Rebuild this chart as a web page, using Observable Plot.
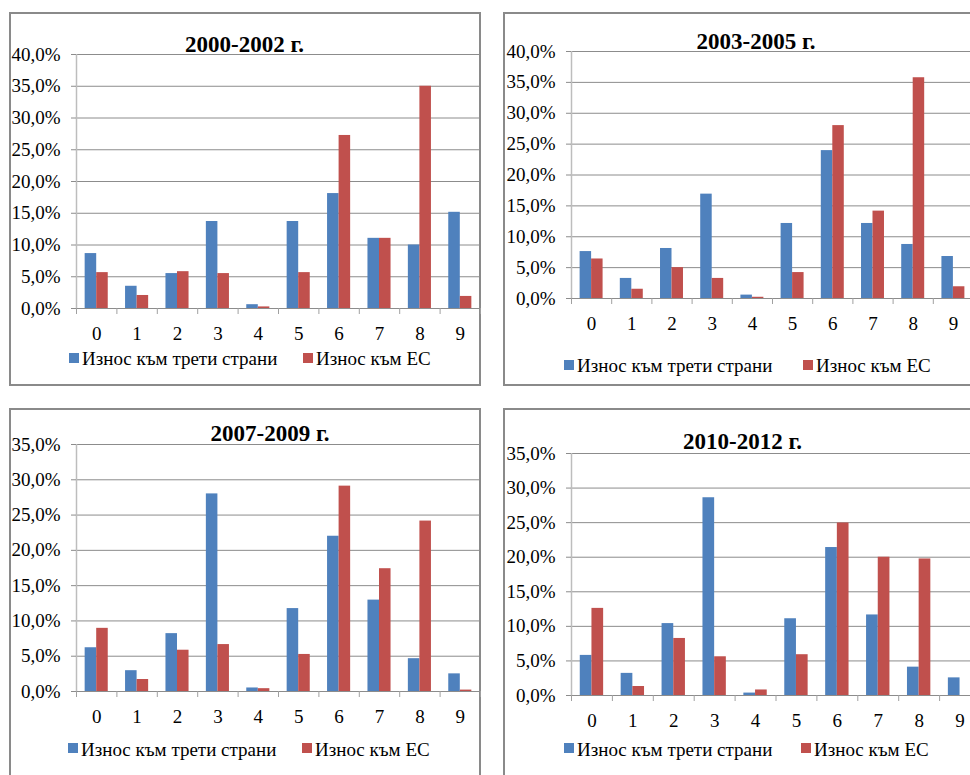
<!DOCTYPE html>
<html>
<head>
<meta charset="utf-8">
<script src="https://cdn.jsdelivr.net/npm/d3@7"></script>
<script src="https://cdn.jsdelivr.net/npm/@observablehq/plot@0.6"></script>
<style>
  body { margin: 0; background: #fff; }
  #page { position: relative; width: 970px; height: 775px; overflow: hidden; background: #fff; font-family: "Liberation Serif", "Times New Roman", serif; }
  .box { position: absolute; border: 2px solid #8a8a8a; box-sizing: border-box; }
  .plot { position: absolute; }
  .title { position: absolute; width: 300px; text-align: center; font-weight: bold; font-size: 23px; line-height: 23px; color: #000; white-space: nowrap; }
  .sw { position: absolute; width: 10px; height: 10px; }
  .lt { position: absolute; font-size: 19px; line-height: 19px; color: #000; white-space: nowrap; }
</style>
</head>
<body>
<div id="page"></div>
<script>
// ---- data ----
const categories = ["0", "1", "2", "3", "4", "5", "6", "7", "8", "9"];
const seriesNames = ["Износ към трети страни", "Износ към ЕС"];
const seriesColors = ["#4F81BD", "#C0504D"];
const panelTitles = ["2000-2002 г.", "2003-2005 г.", "2007-2009 г.", "2010-2012 г."];

const third2000 = [8.65, 3.5, 5.5, 13.7, 0.6, 13.7, 18.1, 11.05, 10.0, 15.15];
const eu2000    = [5.65, 2.05, 5.8, 5.5, 0.25, 5.65, 27.25, 11.05, 35.0, 1.9];
const third2003 = [7.6, 3.25, 8.1, 16.9, 0.55, 12.15, 23.95, 12.15, 8.75, 6.8];
const eu2003    = [6.4, 1.5, 5.0, 3.25, 0.2, 4.2, 28.0, 14.15, 35.75, 1.9];
const third2007 = [6.2, 2.95, 8.2, 28.0, 0.5, 11.75, 22.0, 12.95, 4.65, 2.5];
const eu2007    = [8.95, 1.7, 5.85, 6.65, 0.4, 5.25, 29.1, 17.4, 24.15, 0.2];
const third2010 = [5.8, 3.2, 10.4, 28.6, 0.35, 11.1, 21.4, 11.65, 4.1, 2.55];
const eu2010    = [12.6, 1.3, 8.25, 5.6, 0.8, 5.9, 24.95, 20.0, 19.75, 0.0];

const yMaxes = [40, 40, 35, 35];
const yTicks40 = [0, 5, 10, 15, 20, 25, 30, 35, 40];
const yTicks35 = [0, 5, 10, 15, 20, 25, 30, 35];

// ---- layout ----
const page = document.getElementById("page");
const fmt = d => d.toFixed(1).replace(".", ",") + "%";

const panels = [
  { title: panelTitles[0], third: third2000, eu: eu2000, ymax: yMaxes[0], ticks: yTicks40,
    box: {left: 9, top: 12, width: 472, height: 374},
    svg: {left: 9, top: 12, width: 471, height: 373, ml: 67, mr: 0, mt: 42, mb: 77},
    titleC: 244.5, titleB: 52,
    leg: [{sx: 69, sy: 353, tx: 82, tb: 365}, {sx: 303, sy: 353, tx: 316, tb: 365}] },
  { title: panelTitles[1], third: third2003, eu: eu2003, ymax: yMaxes[1], ticks: yTicks40,
    box: {left: 503, top: 12, width: 500, height: 374},
    svg: {left: 503, top: 12, width: 470, height: 373, ml: 68, mr: 0, mt: 39, mb: 87},
    titleC: 756, titleB: 49,
    leg: [{sx: 564, sy: 360, tx: 577, tb: 372}, {sx: 803, sy: 360, tx: 816, tb: 372}] },
  { title: panelTitles[2], third: third2007, eu: eu2007, ymax: yMaxes[2], ticks: yTicks35,
    box: {left: 9, top: 408, width: 472, height: 400},
    svg: {left: 9, top: 408, width: 471, height: 367, ml: 67, mr: 0, mt: 36, mb: 84},
    titleC: 270, titleB: 441,
    leg: [{sx: 68, sy: 743, tx: 81, tb: 756}, {sx: 302, sy: 743, tx: 315, tb: 756}] },
  { title: panelTitles[3], third: third2010, eu: eu2010, ymax: yMaxes[3], ticks: yTicks35,
    box: {left: 503, top: 408, width: 500, height: 400},
    svg: {left: 503, top: 408, width: 477, height: 367, ml: 68, mr: 0, mt: 45, mb: 80},
    titleC: 742.5, titleB: 449,
    leg: [{sx: 564, sy: 743, tx: 577, tb: 756}, {sx: 801, sy: 743, tx: 814, tb: 756}] }
];

const gridColor = "#8c8c8c";

for (const p of panels) {
  const box = document.createElement("div");
  box.className = "box";
  Object.assign(box.style, {left: p.box.left + "px", top: p.box.top + "px", width: p.box.width + "px", height: p.box.height + "px"});
  page.appendChild(box);

  const s = p.svg;
  const bw = (s.width - s.ml - s.mr) / categories.length;
  const outer = bw * 0.75 / 3.5;
  const rows = categories.map((c, i) => ({i, c, third: p.third[i], eu: p.eu[i]}));

  const chart = Plot.plot({
    width: s.width,
    height: s.height,
    marginLeft: s.ml, marginRight: s.mr, marginTop: s.mt, marginBottom: s.mb,
    style: {fontFamily: "Liberation Serif", fontSize: "19px", color: "#000", background: "transparent", overflow: "visible"},
    x: {type: "linear", domain: [0, categories.length]},
    y: {domain: [0, p.ymax]},
    marks: [
      Plot.gridY({ticks: p.ticks, stroke: gridColor, strokeOpacity: 1, strokeWidth: 1}),
      Plot.ruleX([0], {stroke: "#bdbdbd", strokeWidth: 1.5}),
      Plot.axisY({ticks: p.ticks, tickSize: 5, tickPadding: 11, tickFormat: fmt, stroke: gridColor, fill: "#000", fontSize: 19, label: null}),
      Plot.axisX({ticks: d3.range(categories.length + 1), tickSize: 6, tickFormat: () => "", stroke: "#a0a0a0", label: null}),
      Plot.axisX({ticks: categories.map((c, i) => i + 0.5), tickSize: 0, tickPadding: 18, tickFormat: d => categories[Math.floor(d)], fill: "#000", fontSize: 19, label: null}),
      Plot.rectY(rows, {x1: d => d.i, x2: d => d.i + 1, y1: 0, y2: "third", fill: seriesColors[0], insetLeft: outer, insetRight: bw / 2}),
      Plot.rectY(rows, {x1: d => d.i, x2: d => d.i + 1, y1: 0, y2: "eu", fill: seriesColors[1], insetLeft: bw / 2, insetRight: outer})
    ]
  });
  chart.classList.add("plot");
  chart.style.position = "absolute";
  chart.style.left = s.left + "px";
  chart.style.top = s.top + "px";
  page.appendChild(chart);

  const t = document.createElement("div");
  t.className = "title";
  t.textContent = p.title;
  t.style.left = (p.titleC - 150) + "px";
  t.style.top = (p.titleB - 0.8375 * 23) + "px";
  page.appendChild(t);

  p.leg.forEach((L, k) => {
    const sw = document.createElement("div");
    sw.className = "sw";
    sw.style.background = seriesColors[k];
    sw.style.left = L.sx + "px";
    sw.style.top = L.sy + "px";
    page.appendChild(sw);
    const lt = document.createElement("div");
    lt.className = "lt";
    lt.textContent = seriesNames[k];
    lt.style.left = L.tx + "px";
    lt.style.top = (L.tb - 0.8375 * 19) + "px";
    page.appendChild(lt);
  });
}
</script>
</body>
</html>
